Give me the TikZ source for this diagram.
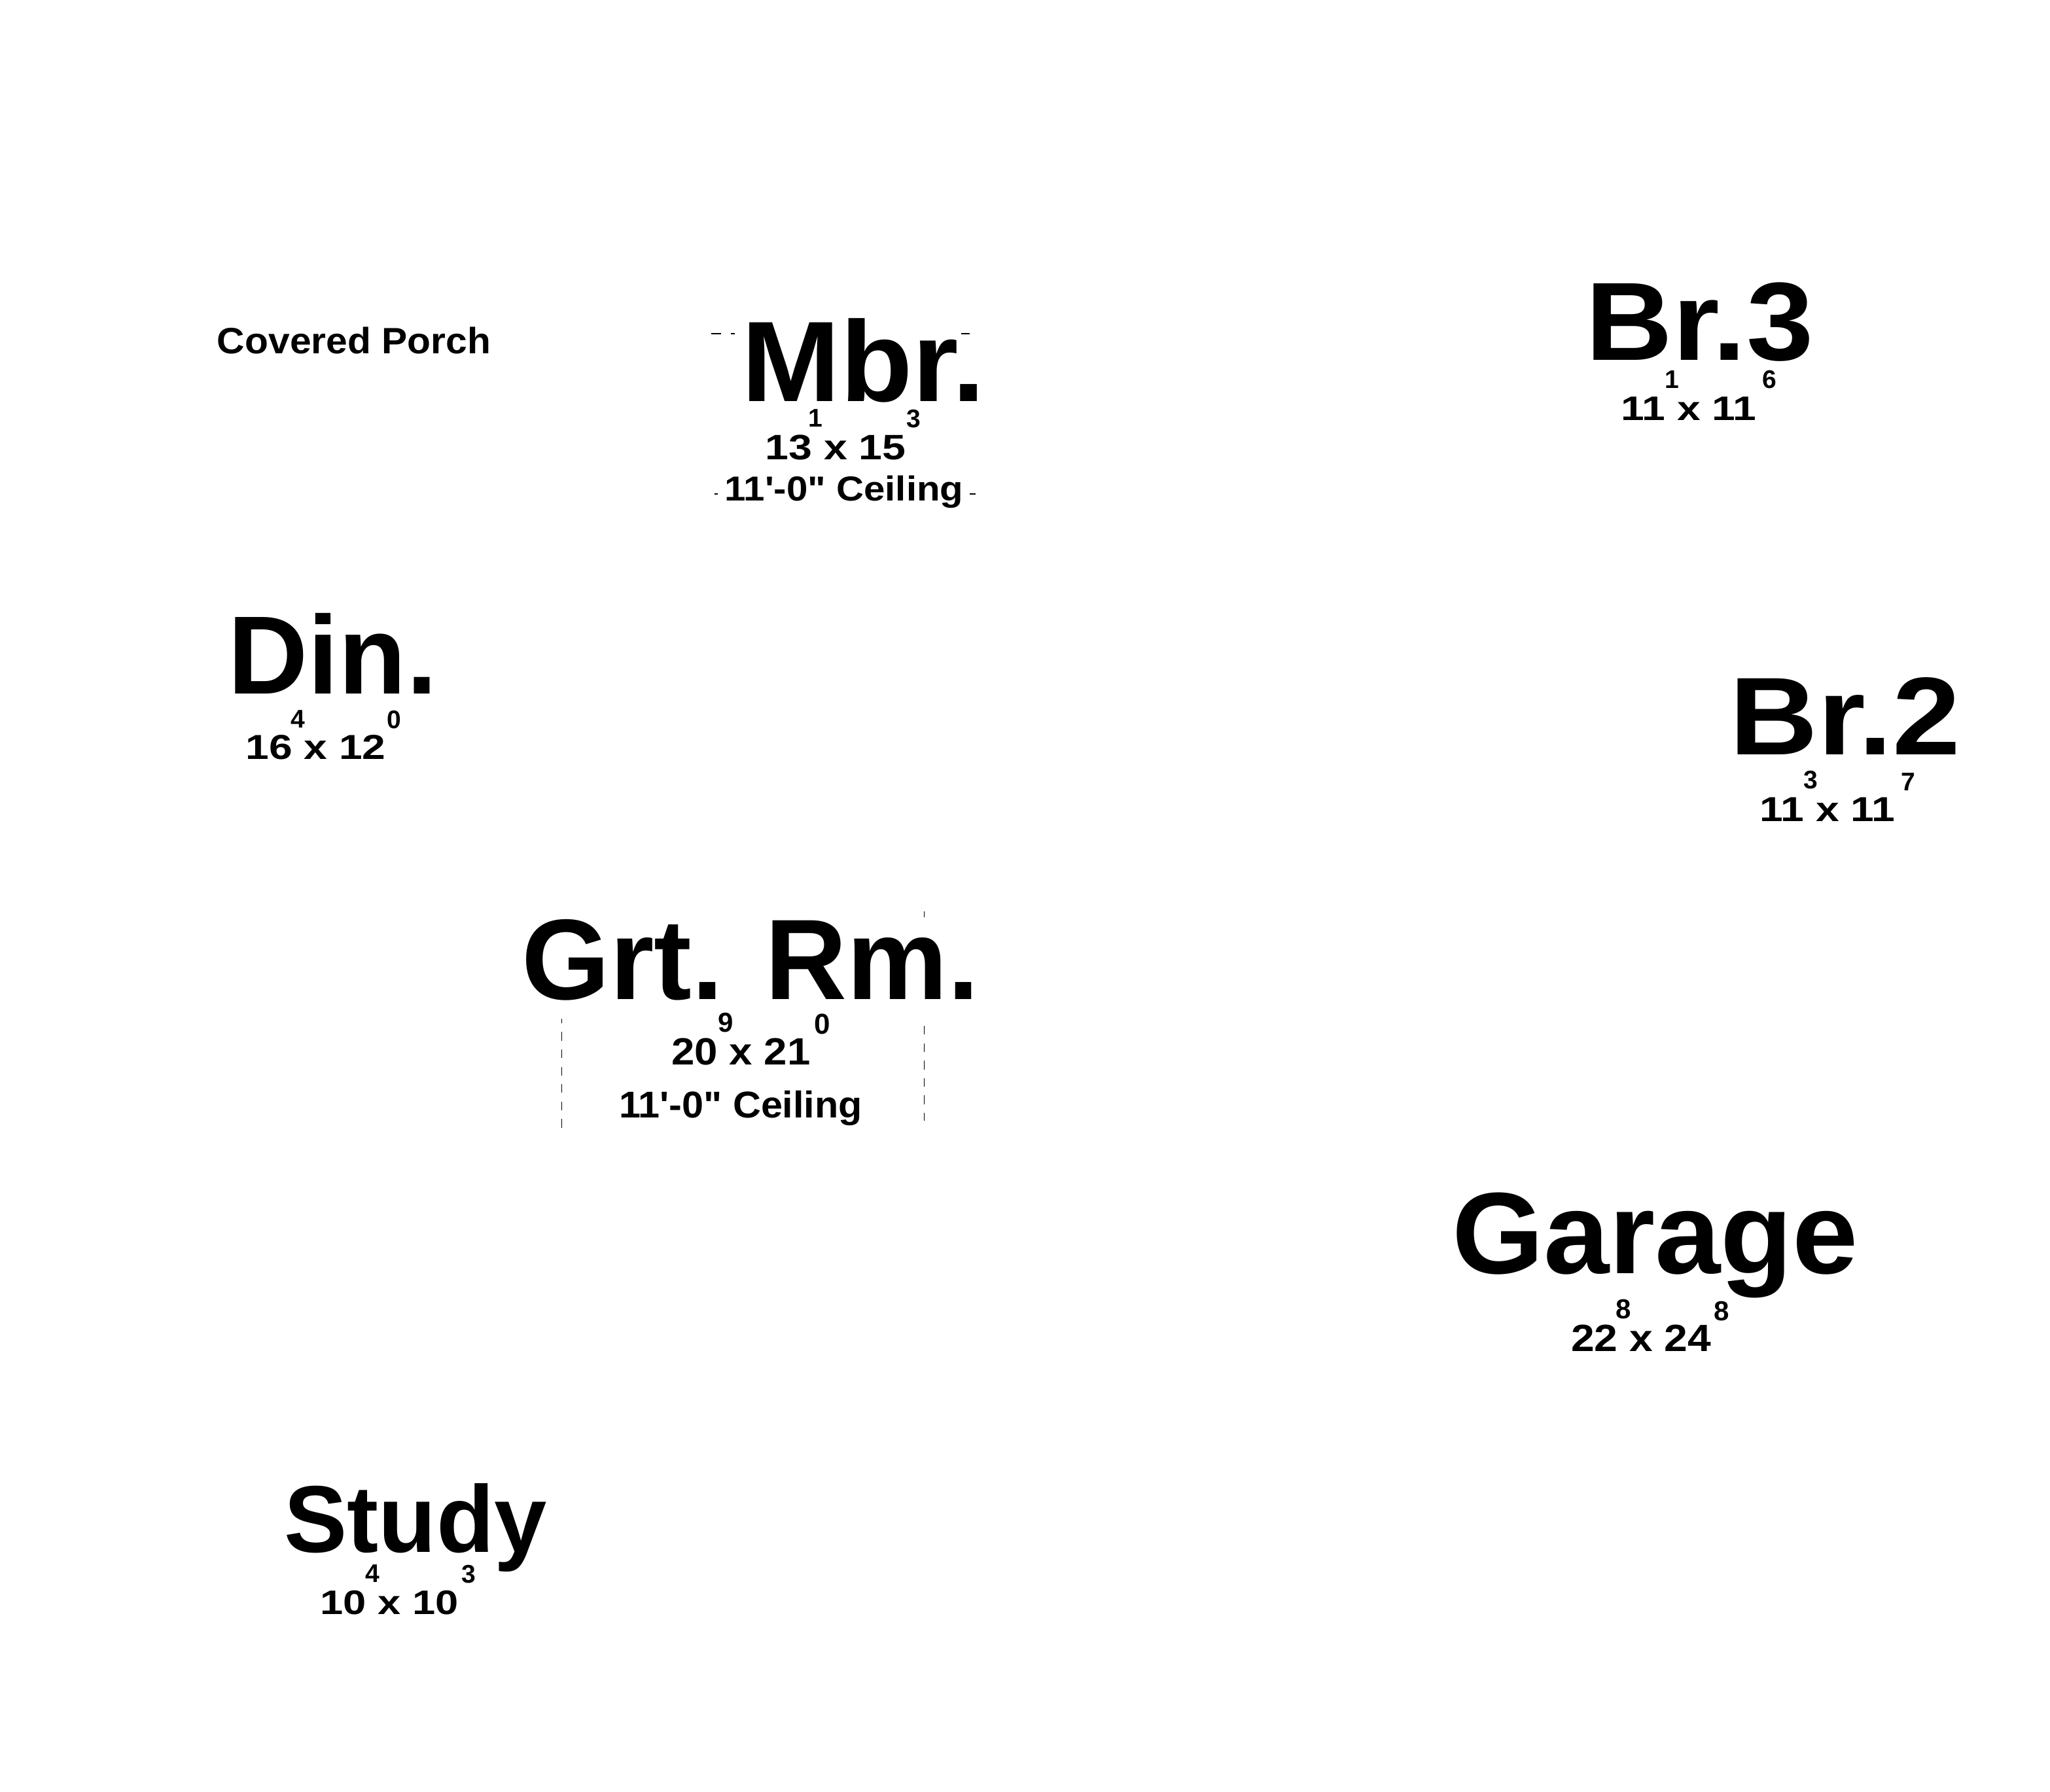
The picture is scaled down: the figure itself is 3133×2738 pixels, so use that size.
\documentclass[tikz,border=0pt]{standalone}
\usepackage{fontspec}
\setmainfont{Liberation Sans}
\usepackage{graphicx}
\tikzset{
  lbl/.style={anchor=base, inner sep=0pt, font=\bfseries},
  dashln/.style={line width=1.3bp, dash pattern=on 13.3bp off 13.3bp},
  tick/.style={line width=1.1bp}
}
% name, cx, baseline, em size, width, text
\newcommand\roomtext[6]{\node[lbl] (#1) at (#2,#3) {\resizebox{#5bp}{\height}{\fontsize{#4bp}{#4bp}\selectfont #6}};}
% name, cx, baseline, em size, text
\newcommand\suptext[5]{\node[lbl] (#1) at (#2,#3) {\fontsize{#4bp}{#4bp}\selectfont #5};}
\newcommand\ceil{11\textquotesingle-0\textquotedbl{} Ceiling}
\begin{document}
\begin{tikzpicture}[x=1bp,y=-1bp]
\useasboundingbox[fill=white] (0,0) rectangle (3133,2738);

% Covered Porch
\roomtext{porch}{541}{540}{56}{418}{Covered Porch}

% Master bedroom
\roomtext{mbr}{1319.5}{613}{175}{372}{Mbr.}
\roomtext{mbrdim}{1277}{702}{54}{215}{13 x 15}
\suptext{mbrsa}{1246.5}{652}{39}{1}
\suptext{mbrsb}{1396.5}{653}{39}{3}
\roomtext{mbrceil}{1290}{765}{53}{365}{\ceil}
\coordinate (m1a) at (1086.7,510); \coordinate (m1b) at (1101.7,510);
\coordinate (m2a) at (1116.7,510); \coordinate (m2b) at (1123.3,510);
\coordinate (m3a) at (1469.3,510); \coordinate (m3b) at (1481.7,510);
\coordinate (m4a) at (1091.7,755); \coordinate (m4b) at (1096.7,755);
\coordinate (m5a) at (1482.3,755); \coordinate (m5b) at (1490.7,755);
\draw[tick] (m1a) -- (m1b) (m2a) -- (m2b) (m3a) -- (m3b) (m4a) -- (m4b) (m5a) -- (m5b);

% Bedroom 3
\roomtext{brthree}{2597.5}{550}{170}{348}{Br.3}
\roomtext{brthreedim}{2581}{642}{52}{207}{11 x 11}
\suptext{brthreesa}{2555}{593}{39}{1}
\suptext{brthreesb}{2704}{593}{39}{6}

% Dining
\roomtext{din}{508.5}{1060}{170}{320}{Din.}
\roomtext{dindim}{482.5}{1160}{53}{214}{16 x 12}
\suptext{dinsa}{455}{1112}{39}{4}
\suptext{dinsb}{602}{1113}{39}{0}

% Bedroom 2
\roomtext{brtwo}{2820}{1153}{169}{353}{Br.2}
\roomtext{brtwodim}{2793}{1255}{53}{207}{11 x 11}
\suptext{brtwosa}{2767.5}{1205}{39}{3}
\suptext{brtwosb}{2916}{1208}{39}{7}

% Great room
\roomtext{grt}{1147}{1527}{175}{699}{Grt. Rm.}
\roomtext{grtdim}{1132.5}{1627}{58}{212}{20 x 21}
\suptext{grtsa}{1109}{1577}{42}{9}
\suptext{grtsb}{1257}{1580}{44}{0}
\roomtext{grtceil}{1132}{1708}{57}{372}{\ceil}
\coordinate (gl1) at (858.6,1557); \coordinate (gl2) at (858.6,1725);
\coordinate (gr0) at (1412.8,1393); \coordinate (gr00) at (1412.8,1402);
\coordinate (gr1) at (1412.8,1568); \coordinate (gr2) at (1412.8,1713);
\draw[dashln, dash phase=6.3bp] (gl1) -- (gl2);
\draw[dashln] (gr1) -- (gr2);
\draw[line width=1.3bp] (gr0) -- (gr00);

% Garage
\roomtext{garage}{2529.5}{1946}{177}{621}{Garage}
\roomtext{garagedim}{2508}{2065}{58}{214}{22 x 24}
\suptext{garagesa}{2481}{2015}{42}{8}
\suptext{garagesb}{2631}{2018}{42}{8}

% Study
\roomtext{study}{635}{2372}{145}{401}{Study}
\roomtext{studydim}{595}{2467}{52}{211}{10 x 10}
\suptext{studysa}{569}{2418}{39}{4}
\suptext{studysb}{716}{2419}{39}{3}
\end{tikzpicture}
\end{document}
